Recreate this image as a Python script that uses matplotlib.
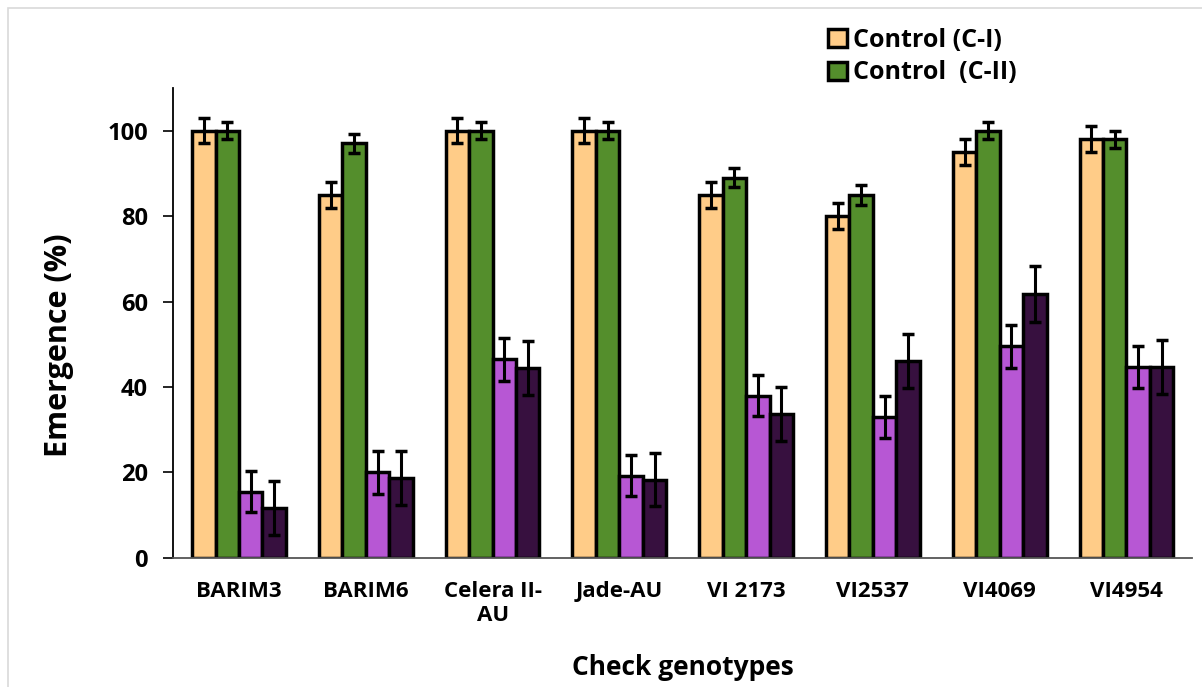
import matplotlib.pyplot as plt
import numpy as np
from matplotlib.patches import Rectangle

genotypes = ['BARIM3', 'BARIM6', 'Celera II-\nAU', 'Jade-AU', 'VI 2173', 'VI2537', 'VI4069', 'VI4954']

ctrl_1 = [100, 85, 100, 100, 85, 80, 95, 98]
ctrl_1_err = [3, 3, 3, 3, 3, 3, 3, 3]
ctrl_2 = [100, 97, 100, 100, 89, 85, 100, 98]
ctrl_2_err = [2, 2.3, 2, 2, 2.2, 2.3, 2, 2]
trt_1 = [15.5, 20, 46.5, 19.2, 38, 33, 49.5, 44.7]
trt_1_err = [4.8, 5, 5, 4.8, 4.9, 4.9, 5, 5]
trt_2 = [11.7, 18.7, 44.5, 18.3, 33.6, 46, 61.8, 44.7]
trt_2_err = [6.3, 6.3, 6.3, 6.2, 6.3, 6.3, 6.5, 6.4]

series = [
    (ctrl_1, ctrl_1_err, '#FFCC88', 'Control (C-I)'),
    (ctrl_2, ctrl_2_err, '#548E2C', 'Control  (C-II)'),
    (trt_1, trt_1_err, '#B757D4', None),
    (trt_2, trt_2_err, '#37103F', None),
]

plt.rcParams['font.family'] = ['Open Sans', 'DejaVu Sans']
plt.rcParams['font.weight'] = 'bold'

fig = plt.figure(figsize=(12.02, 6.87), dpi=100)
fig.patches.append(Rectangle((0.007, -0.01), 1.0, 0.998, transform=fig.transFigure,
                             fill=False, edgecolor='#d9d9d9', linewidth=1.2))
ax = fig.add_axes([0.144, 0.188, 0.848, 0.684])

x = np.arange(len(genotypes))
w = 0.185
handles = []
for i, (vals, errs, color, label) in enumerate(series):
    pos = x + (i - 1.5) * w
    b = ax.bar(pos, vals, w, color=color, edgecolor='black', linewidth=2.5,
               label=label, zorder=2)
    ax.errorbar(pos, vals, yerr=errs, fmt='none', ecolor='black', elinewidth=2.2,
                capsize=4.5, capthick=2.5, zorder=3)
    if label:
        handles.append(b)

ax.set_xlim(-0.52, len(genotypes) - 0.48)
ax.set_ylim(0, 110)
ax.set_yticks([0, 20, 40, 60, 80, 100])
ax.set_xticks(x)
ax.set_xticklabels(genotypes, fontsize=16, fontweight='bold', va='top', linespacing=1.15)
ax.tick_params(axis='x', length=0, pad=17)
ax.tick_params(axis='y', length=7, width=1.2, labelsize=17, pad=11)
for lbl in ax.get_yticklabels():
    lbl.set_fontweight('bold')

for side in ['top', 'right']:
    ax.spines[side].set_visible(False)
ax.spines['left'].set_linewidth(1.3)
ax.spines['bottom'].set_color('#555555')
ax.spines['bottom'].set_linewidth(1.3)

ax.set_ylabel('Emergence (%)', fontsize=22, fontweight='bold')
ax.yaxis.set_label_coords(-0.097, 0.453)
ax.set_xlabel('Check genotypes', fontsize=19, fontweight='bold', labelpad=20)

fig.legend(handles=handles, loc='upper left', bbox_to_anchor=(0.670, 0.992),
           frameon=False, handlelength=0.75, handleheight=0.75,
           handletextpad=0.25, labelspacing=0.3, prop={'weight': 'bold', 'size': 18})

fig.savefig('out.png', dpi=100)
